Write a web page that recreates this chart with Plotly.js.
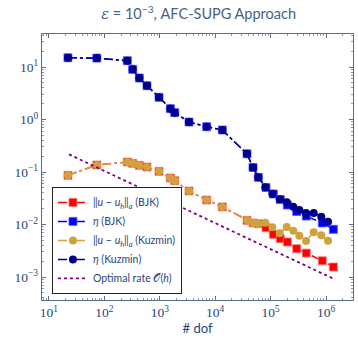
<!DOCTYPE html>
<html>
<head>
<meta charset="utf-8">
<script src="https://cdn.plot.ly/plotly-3.0.1.min.js"></script>
<style>html,body{margin:0;padding:0;background:#fff;}#chart{width:358px;height:339px;}</style>
</head>
<body>
<div id="chart"></div>
<script>
// BJK run
const dofBJK = [22, 73, 259, 324, 427, 587, 968, 1549, 1859, 3367, 7025, 13430, 37500, 48100, 60000,
  82600, 112000, 149600, 200000, 295700, 440600, 857000, 1356000];
const errBJK = [0.0865, 0.136, 0.155, 0.1465, 0.134, 0.1245, 0.103, 0.0769, 0.0683, 0.0435, 0.0293, 0.0216, 0.0120, 0.0107, 0.01035,
  0.00869, 0.00650, 0.00537, 0.00465, 0.00346, 0.00286, 0.00204, 0.00155];
const etaBJK = [15.0, 14.8, 13.2, 9.04, 6.17, 4.40, 2.65, 1.61, 1.35, 0.896, 0.729, 0.631, 0.222, 0.122, 0.0792,
  0.0507, 0.0381, 0.0299, 0.0235, 0.0177, 0.0145, 0.0107, 0.0081];
// Kuzmin run
const dofKuz = [22, 73, 259, 324, 427, 587, 968, 1549, 1859, 3367, 7025, 13430, 37500, 48100, 60000,
  80200, 107400, 146000, 195400, 257000, 330000, 435600, 600000, 822000, 1087000];
const errKuz = [0.0865, 0.136, 0.155, 0.1465, 0.134, 0.1245, 0.103, 0.0769, 0.0683, 0.0435, 0.0293, 0.0216, 0.0120, 0.0107, 0.01035,
  0.0108, 0.00885, 0.00680, 0.00896, 0.00762, 0.00612, 0.00485, 0.00710, 0.00622, 0.00491];
const etaKuz = [15.0, 14.8, 13.2, 9.04, 6.17, 4.40, 2.65, 1.61, 1.35, 0.896, 0.729, 0.631, 0.222, 0.122, 0.0792,
  0.0512, 0.0386, 0.0302, 0.0265, 0.0218, 0.0189, 0.0166, 0.0166, 0.0141, 0.0113];
// Optimal rate reference line (end points)
const rateDof = [23, 1356000];
const rateVal = [0.217, 0.00093];

// tick labels
const xTickVals = [1e1, 1e2, 1e3, 1e4, 1e5, 1e6];
const xTickText = ['10<sup>1</sup>', '10<sup>2</sup>', '10<sup>3</sup>', '10<sup>4</sup>', '10<sup>5</sup>', '10<sup>6</sup>'];
const yTickVals = [1e-3, 1e-2, 1e-1, 1e0, 1e1];
const yTickText = ['10<sup>−3</sup>', '10<sup>−2</sup>', '10<sup>−1</sup>', '10<sup>0</sup>', '10<sup>1</sup>'];

const legendNames = [
  '‖<i>u</i> − <i>u<sub>h</sub></i>‖<sub><i>a</i></sub> (BJK)',
  '<i>η</i> (BJK)',
  '‖<i>u</i> − <i>u<sub>h</sub></i>‖<sub><i>a</i></sub> (Kuzmin)',
  '<i>η</i> (Kuzmin)',
  'Optimal rate 𝒪(<i>h</i>)'
];

function minorVals(lo, hi) {
  const v = [];
  for (let e = lo; e <= hi; e++) for (let m = 2; m <= 9; m++) v.push(m * Math.pow(10, e));
  return v;
}

const traces = [
  {x: dofBJK, y: errBJK, name: legendNames[0], mode: 'lines+markers',
   line: {color: '#ff0000', width: 1.5, dash: 'dashdot'},
   marker: {symbol: 'square', size: 8, color: '#ff0000', line: {color: 'rgba(255,120,120,0.8)', width: 1}}},
  {x: dofBJK, y: etaBJK, name: legendNames[1], mode: 'lines+markers',
   line: {color: '#0000ff', width: 1.5, dash: 'dashdot'},
   marker: {symbol: 'square', size: 8, color: '#0000ff', line: {color: 'rgba(90,90,255,0.8)', width: 1}}},
  {x: dofKuz, y: errKuz, name: legendNames[2], mode: 'lines+markers',
   line: {color: '#d8a040', width: 1.5, dash: 'dashdot'},
   marker: {symbol: 'circle', size: 8, color: '#cfa23e'}},
  {x: dofKuz, y: etaKuz, name: legendNames[3], mode: 'lines+markers',
   line: {color: '#00008b', width: 1.5, dash: 'dashdot'},
   marker: {symbol: 'circle', size: 8, color: '#00008b'}},
  {x: rateDof, y: rateVal, name: legendNames[4], mode: 'lines',
   line: {color: '#800080', width: 1.8, dash: 'dot'}}
];

const axisColor = '#5a6f8f';
const textColor = '#27477a';
const layout = {
  width: 358, height: 339,
  margin: {l: 42, r: 5, t: 34, b: 39},
  paper_bgcolor: '#ffffff', plot_bgcolor: '#ffffff',
  showlegend: true,
  title: {text: '<span style="font-family:DejaVu Serif;font-style:italic">ε</span> = 10<sup>−3</sup>, AFC-SUPG Approach',
    font: {family: 'Lato', size: 14.5, color: '#4a5f85'}, x: 0.555, xanchor: 'center', y: 0.96, yanchor: 'middle'},
  xaxis: {
    type: 'log', range: [0.874, 6.487], tickmode: 'array', tickvals: xTickVals, ticktext: xTickText,
    showgrid: false, zeroline: false, showline: true, linecolor: axisColor, linewidth: 1.2, mirror: 'ticks',
    ticks: 'inside', ticklen: 4, tickcolor: axisColor,
    minor: {tickmode: 'array', tickvals: minorVals(0, 6), ticks: 'inside', ticklen: 2, tickcolor: '#8a9ab0', showgrid: false},
    tickfont: {family: 'Liberation Serif', size: 13.5, color: textColor},
    title: {text: '# dof', font: {family: 'Lato', size: 13, color: textColor}, standoff: 2}
  },
  yaxis: {
    type: 'log', range: [-3.438, 1.629], tickmode: 'array', tickvals: yTickVals, ticktext: yTickText,
    showgrid: false, zeroline: false, showline: true, linecolor: axisColor, linewidth: 1.2, mirror: 'ticks',
    ticks: 'inside', ticklen: 4, tickcolor: axisColor,
    minor: {tickmode: 'array', tickvals: minorVals(-4, 1), ticks: 'inside', ticklen: 2, tickcolor: '#8a9ab0', showgrid: false},
    tickfont: {family: 'Liberation Serif', size: 13.5, color: textColor}
  },
  legend: {
    x: 0.032, y: 0.023, xanchor: 'left', yanchor: 'bottom',
    bgcolor: '#ffffff', bordercolor: '#222222', borderwidth: 1,
    font: {family: 'Lato', size: 10.5, color: textColor},
    tracegroupgap: 0, itemwidth: 30
  }
};

Plotly.newPlot('chart', traces, layout, {displayModeBar: false, staticPlot: true});
</script>
</body>
</html>
